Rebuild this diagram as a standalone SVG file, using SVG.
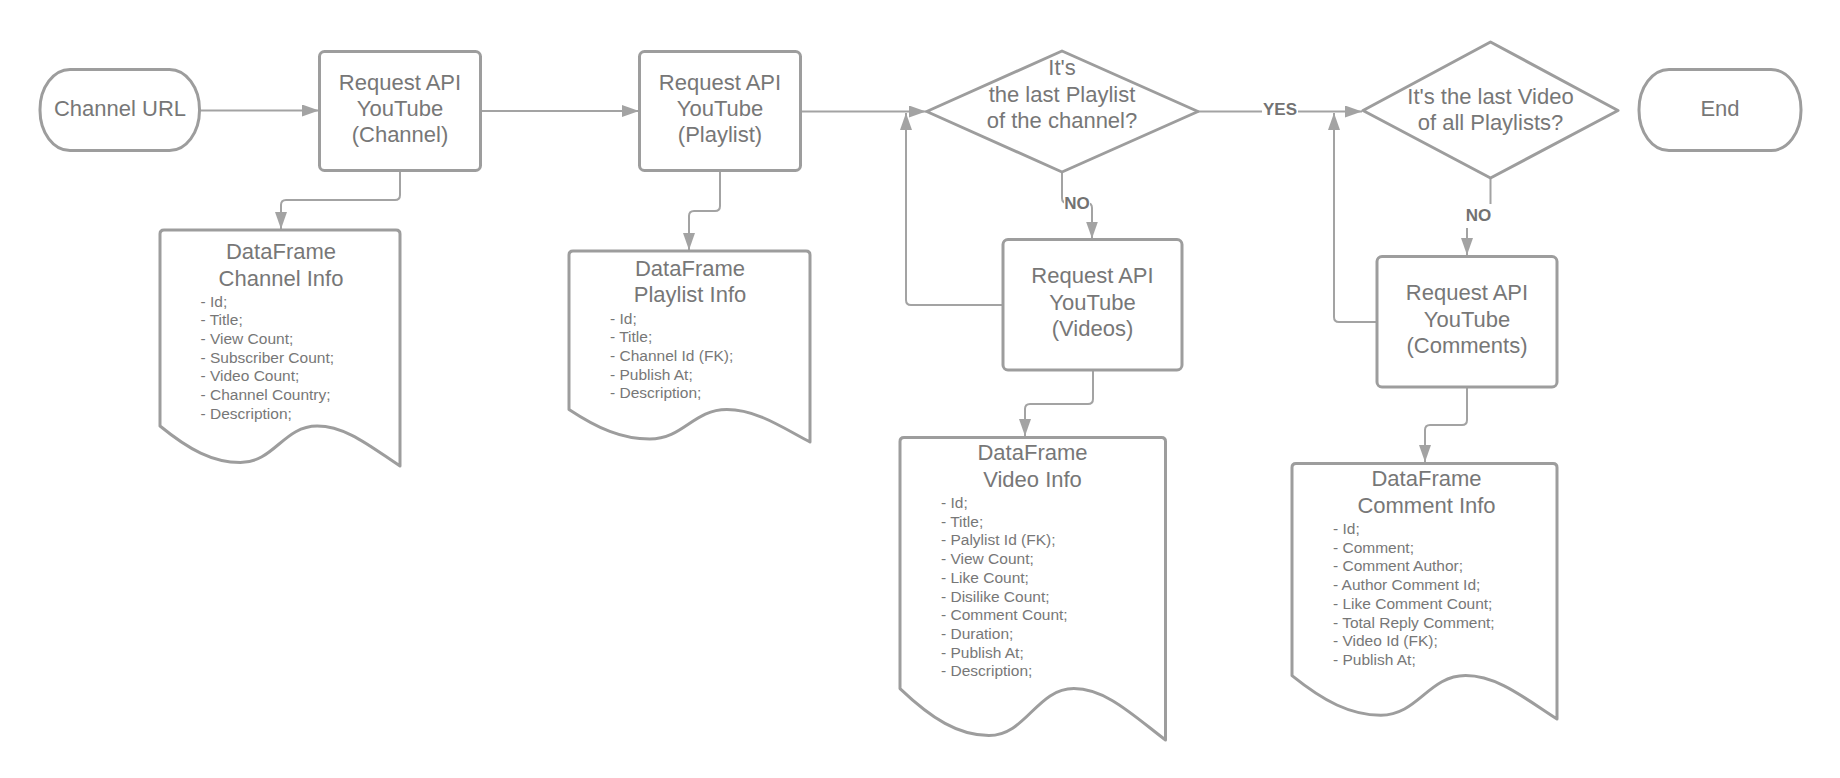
<svg xmlns="http://www.w3.org/2000/svg" width="1840" height="778" viewBox="0 0 1840 778">
<style>
.shape{fill:#fff;stroke:#9d9d9d;stroke-width:3;stroke-linejoin:round}
.conn{fill:none;stroke:#a3a3a3;stroke-width:2}
.t{font-family:"Liberation Sans",Arial,sans-serif;font-size:22px;fill:#777;text-anchor:middle}
.s{font-family:"Liberation Sans",Arial,sans-serif;font-size:15.5px;fill:#777;text-anchor:start}
.lbl{font-family:"Liberation Sans",Arial,sans-serif;font-size:17px;font-weight:bold;fill:#727272;text-anchor:middle}
.bg{fill:#fff}
</style>
<defs>
<marker id="arr" viewBox="0 0 17 12" refX="17" refY="6" markerWidth="17" markerHeight="12" markerUnits="userSpaceOnUse" orient="auto">
<path d="M0,0 L17,6 L0,12 Z" fill="#a3a3a3"/>
</marker>
</defs>
<rect width="1840" height="778" fill="#fff"/>

<g id="connectors">
<path class="conn" d="M199.5,110.5 H319" marker-end="url(#arr)"/>
<path class="conn" d="M480.5,111 H639" marker-end="url(#arr)"/>
<path class="conn" d="M800.5,111.5 H926" marker-end="url(#arr)"/>
<path class="conn" d="M1003,305 H911 Q906,305 906,300 V113" marker-end="url(#arr)"/>
<path class="conn" d="M1062,172 V198 Q1062,203 1067,203 H1087 Q1092,203 1092,208 V238.5" marker-end="url(#arr)"/>
<path class="conn" d="M1198,111.5 H1362" marker-end="url(#arr)"/>
<path class="conn" d="M1377,322 H1339 Q1334,322 1334,317 V113" marker-end="url(#arr)"/>
<path class="conn" d="M1490.5,178 V210 Q1490.5,215 1485.5,215 H1472 Q1467,215 1467,220 V255" marker-end="url(#arr)"/>
<path class="conn" d="M400,170.5 V195 Q400,200 395,200 H286 Q281,200 281,205 V229" marker-end="url(#arr)"/>
<path class="conn" d="M720,170.5 V206 Q720,211 715,211 H694 Q689,211 689,216 V250" marker-end="url(#arr)"/>
<path class="conn" d="M1093,370 V399 Q1093,404 1088,404 H1030 Q1025,404 1025,409 V436" marker-end="url(#arr)"/>
<path class="conn" d="M1467,387 V420 Q1467,425 1462,425 H1430 Q1425,425 1425,430 V462" marker-end="url(#arr)"/>
<rect class="bg" x="1064" y="193" width="26" height="18"/>
<text class="lbl" x="1077" y="209">NO</text>
<rect class="bg" x="1262" y="101" width="36" height="18"/>
<text class="lbl" x="1280" y="115">YES</text>
<rect class="bg" x="1464" y="204" width="29" height="24"/>
<text class="lbl" x="1478.5" y="221">NO</text>
</g>

<g id="channel-url">
<rect class="shape" x="40" y="69.5" width="159.5" height="81" rx="30" ry="40"/>
<text class="t" x="120" y="115.5">Channel URL</text>
</g>

<g id="req-channel">
<rect class="shape" x="319.5" y="51.5" width="161" height="119" rx="5"/>
<text class="t" x="400" y="90">Request API</text>
<text class="t" x="400" y="116">YouTube</text>
<text class="t" x="400" y="142">(Channel)</text>
</g>

<g id="req-playlist">
<rect class="shape" x="639.5" y="51.5" width="161" height="119" rx="5"/>
<text class="t" x="720" y="90">Request API</text>
<text class="t" x="720" y="116">YouTube</text>
<text class="t" x="720" y="142">(Playlist)</text>
</g>

<g id="dec-playlist">
<path class="shape" d="M926.7,111.5 L1062,51 L1198,111.5 L1062,172 Z"/>
<text class="t" x="1062" y="75">It's</text>
<text class="t" x="1062" y="101.5">the last Playlist</text>
<text class="t" x="1062" y="128">of the channel?</text>
</g>

<g id="dec-video">
<path class="shape" d="M1363,110.5 L1490.5,42 L1618,110.5 L1490.5,178 Z"/>
<text class="t" x="1490.5" y="103.5">It's the last Video</text>
<text class="t" x="1490.5" y="130">of all Playlists?</text>
</g>

<g id="end">
<rect class="shape" x="1639" y="69.5" width="162" height="81" rx="30" ry="40"/>
<text class="t" x="1720" y="115.5">End</text>
</g>

<g id="req-videos">
<rect class="shape" x="1003" y="239.5" width="179" height="130.5" rx="5"/>
<text class="t" x="1092.5" y="283">Request API</text>
<text class="t" x="1092.5" y="309.5">YouTube</text>
<text class="t" x="1092.5" y="336">(Videos)</text>
</g>

<g id="req-comments">
<rect class="shape" x="1377" y="256.5" width="180" height="130.5" rx="5"/>
<text class="t" x="1467" y="300">Request API</text>
<text class="t" x="1467" y="326.5">YouTube</text>
<text class="t" x="1467" y="353">(Comments)</text>
</g>

<g id="df-channel">
<path class="shape" d="M160,426 V234 Q160,230 164,230 H396 Q400,230 400,234 V466 C371.2,447.1 346,426 317.2,426 C283.6,426 274,462.5 240.4,462.5 C212.8,462.5 188.8,449.6 160,426 Z"/>
<text class="t" x="281" y="259">DataFrame</text>
<text class="t" x="281" y="285.5">Channel Info</text>
<text class="s" x="200.5" y="306.5">- Id;</text>
<text class="s" x="200.5" y="325.2">- Title;</text>
<text class="s" x="200.5" y="343.9">- View Count;</text>
<text class="s" x="200.5" y="362.6">- Subscriber Count;</text>
<text class="s" x="200.5" y="381.3">- Video Count;</text>
<text class="s" x="200.5" y="400">- Channel Country;</text>
<text class="s" x="200.5" y="418.7">- Description;</text>
</g>

<g id="df-playlist">
<path class="shape" d="M569,409.5 V255 Q569,251 573,251 H806 Q810,251 810,255 V442 C781.1,426.7 755.8,409.5 726.9,409.5 C693.2,409.5 683.4,439.1 649.7,439.1 C622,439.1 597.9,428.6 569,409.5 Z"/>
<text class="t" x="690" y="276">DataFrame</text>
<text class="t" x="690" y="302">Playlist Info</text>
<text class="s" x="610" y="323.5">- Id;</text>
<text class="s" x="610" y="342.2">- Title;</text>
<text class="s" x="610" y="360.9">- Channel Id (FK);</text>
<text class="s" x="610" y="379.6">- Publish At;</text>
<text class="s" x="610" y="398.3">- Description;</text>
</g>

<g id="df-video">
<path class="shape" d="M900,688.6 V441.5 Q900,437.5 904,437.5 H1161.5 Q1165.5,437.5 1165.5,441.5 V740 C1133.6,715.8 1105.8,688.6 1073.9,688.6 C1036.7,688.6 1026.1,735.5 988.9,735.5 C958.4,735.5 931.9,718.9 900,688.6 Z"/>
<text class="t" x="1032.5" y="460">DataFrame</text>
<text class="t" x="1032.5" y="486.5">Video Info</text>
<text class="s" x="941" y="508">- Id;</text>
<text class="s" x="941" y="526.7">- Title;</text>
<text class="s" x="941" y="545.4">- Palylist Id (FK);</text>
<text class="s" x="941" y="564.1">- View Count;</text>
<text class="s" x="941" y="582.8">- Like Count;</text>
<text class="s" x="941" y="601.5">- Disilike Count;</text>
<text class="s" x="941" y="620.2">- Comment Count;</text>
<text class="s" x="941" y="638.9">- Duration;</text>
<text class="s" x="941" y="657.6">- Publish At;</text>
<text class="s" x="941" y="676.3">- Description;</text>
</g>

<g id="df-comment">
<path class="shape" d="M1292,675.6 V467.5 Q1292,463.5 1296,463.5 H1553 Q1557,463.5 1557,467.5 V719 C1525.2,698.6 1497.4,675.6 1465.6,675.6 C1428.5,675.6 1417.9,715.2 1380.8,715.2 C1350.3,715.2 1323.8,701.2 1292,675.6 Z"/>
<text class="t" x="1426.5" y="486">DataFrame</text>
<text class="t" x="1426.5" y="512.5">Comment Info</text>
<text class="s" x="1333" y="534">- Id;</text>
<text class="s" x="1333" y="552.7">- Comment;</text>
<text class="s" x="1333" y="571.4">- Comment Author;</text>
<text class="s" x="1333" y="590.1">- Author Comment Id;</text>
<text class="s" x="1333" y="608.8">- Like Comment Count;</text>
<text class="s" x="1333" y="627.5">- Total Reply Comment;</text>
<text class="s" x="1333" y="646.2">- Video Id (FK);</text>
<text class="s" x="1333" y="664.9">- Publish At;</text>
</g>
</svg>
